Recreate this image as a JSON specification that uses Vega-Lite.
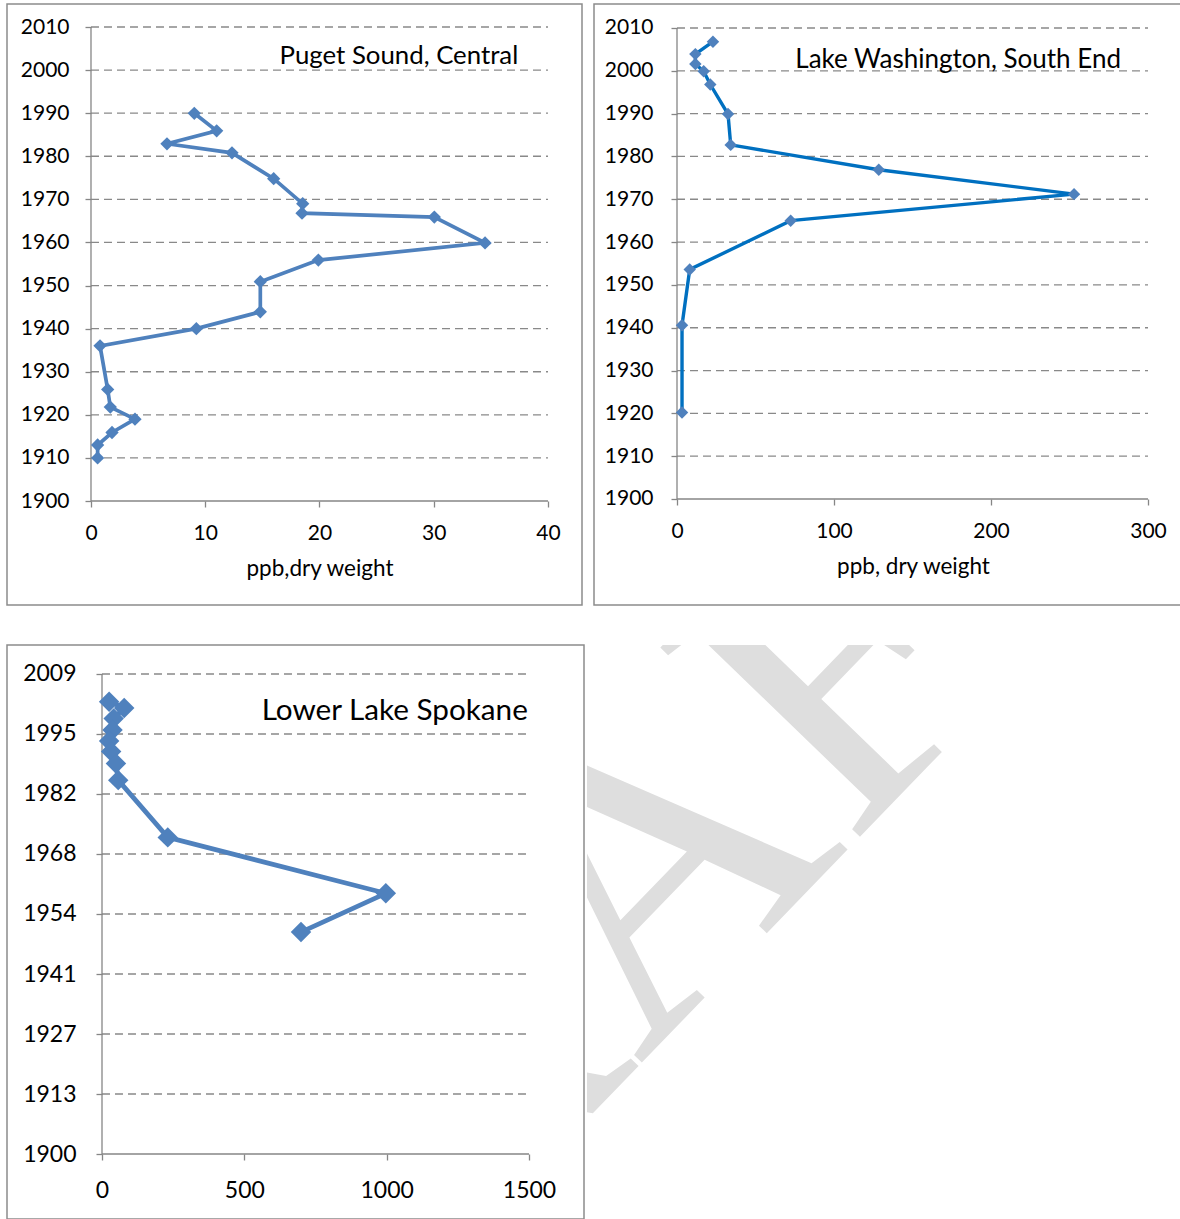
{
"$schema": "https://vega.github.io/schema/vega-lite/v6.json",
"padding": {"left": 6, "top": 3, "right": 0, "bottom": 0},
"config": {
  "font": "Lato",
  "axis": {"labelFont": "Lato", "titleFont": "Lato", "labelColor": "#000000", "titleColor": "#000000", "titleFontWeight": "normal", "tickColor": "#868686", "tickWidth": 1.3, "tickSize": 6, "domain": false, "grid": false, "labelFlush": false, "labelOverlap": false, "labelBound": false, "labelFontSize": 21, "titleFontSize": 22.5}
},
"datasets": {
  "puget": [
    {"year": 1989.97, "ppb": 9.04}, {"year": 1985.9, "ppb": 11.0}, {"year": 1982.9, "ppb": 6.65}, {"year": 1980.8, "ppb": 12.34},
    {"year": 1974.8, "ppb": 15.99}, {"year": 1969.0, "ppb": 18.53}, {"year": 1966.8, "ppb": 18.47}, {"year": 1965.9, "ppb": 30.05},
    {"year": 1959.9, "ppb": 34.49}, {"year": 1955.9, "ppb": 19.9}, {"year": 1950.9, "ppb": 14.82}, {"year": 1943.9, "ppb": 14.82},
    {"year": 1940.0, "ppb": 9.22}, {"year": 1936.0, "ppb": 0.79}, {"year": 1925.9, "ppb": 1.46}, {"year": 1921.8, "ppb": 1.69},
    {"year": 1919.0, "ppb": 3.85}, {"year": 1915.9, "ppb": 1.84}, {"year": 1913.0, "ppb": 0.58}, {"year": 1910.0, "ppb": 0.58}
  ],
  "lakewa": [
    {"year": 2006.8, "ppb": 22.9}, {"year": 2003.9, "ppb": 11.7}, {"year": 2001.6, "ppb": 11.7}, {"year": 1999.9, "ppb": 17.0},
    {"year": 1996.8, "ppb": 21.2}, {"year": 1989.9, "ppb": 32.5}, {"year": 1982.7, "ppb": 34.2}, {"year": 1976.9, "ppb": 128.5},
    {"year": 1971.2, "ppb": 252.9}, {"year": 1965.0, "ppb": 72.4}, {"year": 1953.6, "ppb": 8.1}, {"year": 1940.6, "ppb": 3.2},
    {"year": 1920.2, "ppb": 3.2}
  ],
  "spokane": [
    {"year": 2002.7, "ppb": 25}, {"year": 2001.3, "ppb": 78}, {"year": 1998.9, "ppb": 41}, {"year": 1996.3, "ppb": 37},
    {"year": 1993.8, "ppb": 25}, {"year": 1991.4, "ppb": 32}, {"year": 1988.7, "ppb": 49}, {"year": 1984.9, "ppb": 57},
    {"year": 1971.9, "ppb": 231}, {"year": 1959.2, "ppb": 997}, {"year": 1950.4, "ppb": 699}
  ],
  "grid10": [
    {"year": 1910}, {"year": 1920}, {"year": 1930}, {"year": 1940}, {"year": 1950}, {"year": 1960},
    {"year": 1970}, {"year": 1980}, {"year": 1990}, {"year": 2000}, {"year": 2010}
  ],
  "gridsp": [
    {"year": 1913.625}, {"year": 1927.25}, {"year": 1940.875}, {"year": 1954.5},
    {"year": 1968.125}, {"year": 1981.75}, {"year": 1995.375}, {"year": 2009}
  ]
},
"spacing": 38,
"vconcat": [
  {
    "spacing": 10,
    "hconcat": [
      {
        "width": 575, "height": 601,
        "view": {"stroke": "#8c8c8c", "strokeWidth": 1.5, "fill": "white"},
        "layer": [
          {
            "data": {"name": "grid10"},
            "mark": {"type": "rule", "color": "#898989", "strokeWidth": 1.3, "strokeDash": [8, 5]},
            "encoding": {
              "y": {"field": "year", "type": "quantitative", "scale": {"domain": [1875.865, 2015.338], "nice": false, "zero": false},
                    "axis": {"values": [1900, 1910, 1920, 1930, 1940, 1950, 1960, 1970, 1980, 1990, 2000, 2010], "format": "d", "offset": -84, "labelPadding": 16, "title": null}},
              "x": {"datum": 0, "type": "quantitative", "scale": {"domain": [-7.352, 42.976], "nice": false, "zero": false},
                    "axis": {"values": [0, 10, 20, 30, 40], "format": "d", "offset": -104, "labelPadding": 15, "title": "ppb,dry weight", "titleX": 312.5, "titleY": 67, "titleBaseline": "middle", "titleAlign": "center"}},
              "x2": {"datum": 40}
            }
          },
          {
            "data": {"values": [{}]},
            "mark": {"type": "rule", "color": "#868686", "strokeWidth": 1.3},
            "encoding": {"x": {"datum": 0, "type": "quantitative"}, "y": {"datum": 1900, "type": "quantitative"}, "y2": {"datum": 2010}}
          },
          {
            "data": {"values": [{}]},
            "mark": {"type": "rule", "color": "#868686", "strokeWidth": 1.3},
            "encoding": {"x": {"datum": 0, "type": "quantitative"}, "x2": {"datum": 40}, "y": {"datum": 1900, "type": "quantitative"}}
          },
          {
            "data": {"name": "puget"},
            "mark": {"type": "line", "color": "#4F81BD", "strokeWidth": 3.7},
            "encoding": {"x": {"field": "ppb", "type": "quantitative"}, "y": {"field": "year", "type": "quantitative"}, "order": {"field": "year"}}
          },
          {
            "data": {"name": "puget"},
            "mark": {"type": "point", "shape": "diamond", "filled": true, "size": 177, "color": "#4F81BD", "opacity": 1},
            "encoding": {"x": {"field": "ppb", "type": "quantitative"}, "y": {"field": "year", "type": "quantitative"}}
          },
          {
            "data": {"values": [{}]},
            "mark": {"type": "text", "text": "Puget Sound, Central", "font": "Lato", "fontSize": 25.8, "align": "right", "baseline": "middle", "color": "#000000"},
            "encoding": {"x": {"datum": 37.4, "type": "quantitative"}, "y": {"datum": 2003.3, "type": "quantitative"}}
          }
        ]
      },
      {
        "width": 588, "height": 601,
        "view": {"stroke": "#8c8c8c", "strokeWidth": 1.5, "fill": "white"},
        "layer": [
          {
            "data": {"name": "grid10"},
            "mark": {"type": "rule", "color": "#898989", "strokeWidth": 1.3, "strokeDash": [8, 5]},
            "encoding": {
              "y": {"field": "year", "type": "quantitative", "scale": {"domain": [1875.244, 2015.605], "nice": false, "zero": false},
                    "axis": {"values": [1900, 1910, 1920, 1930, 1940, 1950, 1960, 1970, 1980, 1990, 2000, 2010], "format": "d", "offset": -83, "labelPadding": 18, "title": null}},
              "x": {"datum": 0, "type": "quantitative", "scale": {"domain": [-52.866, 321.656], "nice": false, "zero": false},
                    "axis": {"values": [0, 100, 200, 300], "format": "d", "offset": -106, "labelPadding": 15, "title": "ppb, dry weight", "titleX": 319, "titleY": 67, "titleBaseline": "middle", "titleAlign": "center"}},
              "x2": {"datum": 300}
            }
          },
          {
            "data": {"values": [{}]},
            "mark": {"type": "rule", "color": "#868686", "strokeWidth": 1.3},
            "encoding": {"x": {"datum": 0, "type": "quantitative"}, "y": {"datum": 1900, "type": "quantitative"}, "y2": {"datum": 2010}}
          },
          {
            "data": {"values": [{}]},
            "mark": {"type": "rule", "color": "#868686", "strokeWidth": 1.3},
            "encoding": {"x": {"datum": 0, "type": "quantitative"}, "x2": {"datum": 300}, "y": {"datum": 1900, "type": "quantitative"}}
          },
          {
            "data": {"name": "lakewa"},
            "mark": {"type": "line", "color": "#0070C0", "strokeWidth": 3.4},
            "encoding": {"x": {"field": "ppb", "type": "quantitative"}, "y": {"field": "year", "type": "quantitative"}, "order": {"field": "year"}}
          },
          {
            "data": {"name": "lakewa"},
            "mark": {"type": "point", "shape": "diamond", "filled": true, "size": 155, "color": "#4F81BD", "opacity": 1},
            "encoding": {"x": {"field": "ppb", "type": "quantitative"}, "y": {"field": "year", "type": "quantitative"}}
          },
          {
            "data": {"values": [{}]},
            "mark": {"type": "text", "text": "Lake Washington, South End", "font": "Lato", "fontSize": 26, "align": "right", "baseline": "middle", "color": "#000000"},
            "encoding": {"x": {"datum": 282.8, "type": "quantitative"}, "y": {"datum": 2002.6, "type": "quantitative"}}
          }
        ]
      }
    ]
  },
  {
    "spacing": 2,
    "hconcat": [
      {
        "width": 577, "height": 574,
        "view": {"stroke": "#8c8c8c", "strokeWidth": 1.5, "fill": "white"},
        "layer": [
          {
            "data": {"name": "gridsp"},
            "mark": {"type": "rule", "color": "#898989", "strokeWidth": 1.3, "strokeDash": [8, 5]},
            "encoding": {
              "y": {"field": "year", "type": "quantitative", "scale": {"domain": [1885.24, 2015.585], "nice": false, "zero": false},
                    "axis": {"values": [1900, 1913.625, 1927.25, 1940.875, 1954.5, 1968.125, 1981.75, 1995.375, 2009], "labelExpr": "['1900','1913','1927','1941','1954','1968','1982','1995','2009'][round((datum.value-1900)/13.625)]", "offset": -95, "labelPadding": 20, "labelFontSize": 23, "title": null}},
              "x": {"datum": 0, "type": "quantitative", "scale": {"domain": [-333.72, 1693.2], "nice": false, "zero": false},
                    "axis": {"values": [0, 500, 1000, 1500], "format": "d", "offset": -65, "labelPadding": 19, "labelFontSize": 23, "title": null}},
              "x2": {"datum": 1500}
            }
          },
          {
            "data": {"values": [{}]},
            "mark": {"type": "rule", "color": "#868686", "strokeWidth": 1.3},
            "encoding": {"x": {"datum": 0, "type": "quantitative"}, "y": {"datum": 1900, "type": "quantitative"}, "y2": {"datum": 2009}}
          },
          {
            "data": {"values": [{}]},
            "mark": {"type": "rule", "color": "#868686", "strokeWidth": 1.3},
            "encoding": {"x": {"datum": 0, "type": "quantitative"}, "x2": {"datum": 1500}, "y": {"datum": 1900, "type": "quantitative"}}
          },
          {
            "data": {"name": "spokane"},
            "mark": {"type": "line", "color": "#4F81BD", "strokeWidth": 4.7},
            "encoding": {"x": {"field": "ppb", "type": "quantitative"}, "y": {"field": "year", "type": "quantitative"}, "order": {"field": "year"}}
          },
          {
            "data": {"name": "spokane"},
            "mark": {"type": "point", "shape": "diamond", "filled": true, "size": 420, "color": "#4F81BD", "opacity": 1},
            "encoding": {"x": {"field": "ppb", "type": "quantitative"}, "y": {"field": "year", "type": "quantitative"}}
          },
          {
            "data": {"values": [{}]},
            "mark": {"type": "text", "text": "Lower Lake Spokane", "font": "Lato", "fontSize": 29.7, "align": "right", "baseline": "middle", "color": "#000000"},
            "encoding": {"x": {"datum": 1496, "type": "quantitative"}, "y": {"datum": 2000.6, "type": "quantitative"}}
          }
        ]
      },
      {
        "width": 595, "height": 574,
        "view": {"stroke": null},
        "data": {"values": [{}]},
        "mark": {"type": "text", "text": "DRAFT", "font": "Liberation Serif", "fontSize": 420, "angle": -46, "color": "#dedede", "align": "center", "baseline": "alphabetic", "clip": true},
        "encoding": {
          "x": {"datum": 0.21, "type": "quantitative", "scale": {"domain": [0, 1], "nice": false, "zero": false}, "axis": null},
          "y": {"datum": 0.399, "type": "quantitative", "scale": {"domain": [0, 1], "nice": false, "zero": false}, "axis": null}
        }
      }
    ]
  }
]
}
